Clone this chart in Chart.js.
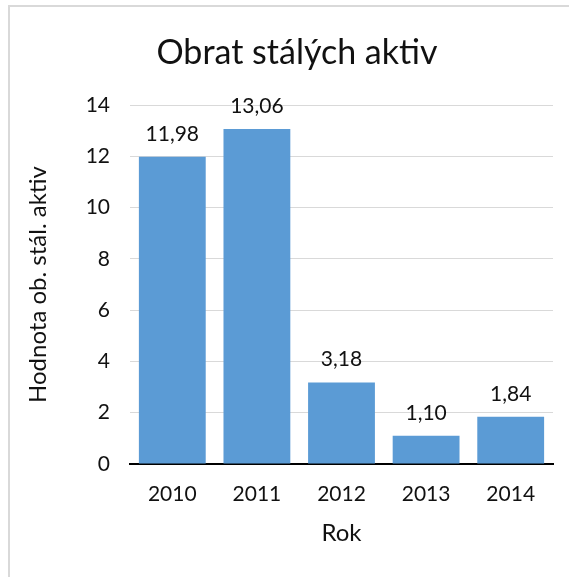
<!DOCTYPE html>
<html>
<head>
<meta charset="utf-8">
<script src="https://cdn.jsdelivr.net/npm/chart.js@4"></script>
<style>
    html, body { margin: 0; padding: 0; background: #fff; overflow: hidden; }
    canvas { display: block; }
</style>
</head>
<body>
<canvas id="obratChart" width="594" height="577"></canvas>
<script>
const roky = ['2010', '2011', '2012', '2013', '2014'];
const hodnoty = [11.98, 13.06, 3.18, 1.10, 1.84];
const yTicks = [0, 2, 4, 6, 8, 10, 12, 14];
const nadpis = 'Obrat stálých aktiv';

const FONT = 'Lato, "Open Sans", sans-serif';
const TEXT_COLOR = '#111';

// frame lines (top + left) and the chart title, centred on the whole frame
const framePlugin = {
    id: 'frame',
    beforeDraw(chart) {
        const c = chart.ctx;
        c.save();
        c.fillStyle = '#fff';
        c.fillRect(0, 0, chart.width, chart.height);
        c.strokeStyle = '#d9d9d9';
        c.lineWidth = 2;
        c.beginPath();
        c.moveTo(9, chart.height);
        c.lineTo(9, 6);
        c.lineTo(chart.width, 6);
        c.stroke();

        c.font = '34px ' + FONT;
        c.fillStyle = TEXT_COLOR;
        c.textAlign = 'center';
        c.textBaseline = 'middle';
        c.fillText(nadpis, 297, 53);
        c.restore();
    }
};

// value labels above bars, czech decimal comma
const valueLabels = {
    id: 'valueLabels',
    afterDatasetsDraw(chart) {
        const c = chart.ctx;
        const meta = chart.getDatasetMeta(0);
        c.save();
        c.font = '21px ' + FONT;
        c.fillStyle = TEXT_COLOR;
        c.textAlign = 'center';
        c.textBaseline = 'alphabetic';
        meta.data.forEach((bar, i) => {
            const txt = hodnoty[i].toFixed(2).replace('.', ',');
            c.fillText(txt, bar.x, bar.y - 16);
        });
        c.restore();
    }
};

const ctx = document.getElementById('obratChart').getContext('2d');
const chart = new Chart(ctx, {
    type: 'bar',
    data: {
        labels: roky,
        datasets: [{
            data: hodnoty,
            backgroundColor: '#5b9bd5',
            borderWidth: 0,
            categoryPercentage: 0.79,
            barPercentage: 1.0
        }]
    },
    options: {
        responsive: false,
        animation: false,
        devicePixelRatio: 1,
        layout: {
            padding: { top: 105, left: 0, right: 41, bottom: 29 }
        },
        plugins: {
            legend: { display: false },
            tooltip: { enabled: false },
            title: { display: false }
        },
        scales: {
            x: {
                afterFit(scale) {
                    scale.height = 84;
                },
                grid: { display: false, drawTicks: false },
                border: { display: true, color: '#000', width: 2 },
                ticks: {
                    color: TEXT_COLOR,
                    font: { family: FONT, size: 21 },
                    padding: 18
                },
                title: {
                    display: true,
                    text: 'Rok',
                    color: TEXT_COLOR,
                    font: { family: FONT, size: 24 },
                    padding: { top: 0, bottom: 0 }
                }
            },
            y: {
                min: 0,
                max: 14,
                afterBuildTicks(scale) {
                    scale.ticks = yTicks.map(v => ({ value: v }));
                },
                afterFit(scale) {
                    scale.width = 130;
                },
                grid: { color: '#d9d9d9', lineWidth: 1, drawTicks: false },
                border: { display: false },
                ticks: {
                    color: TEXT_COLOR,
                    font: { family: FONT, size: 21 },
                    padding: 20
                },
                title: {
                    display: true,
                    text: 'Hodnota ob. stál. aktiv',
                    color: TEXT_COLOR,
                    font: { family: FONT, size: 24 },
                    padding: { top: 24, bottom: 0 }
                }
            }
        }
    },
    plugins: [framePlugin, valueLabels]
});
</script>
</body>
</html>
